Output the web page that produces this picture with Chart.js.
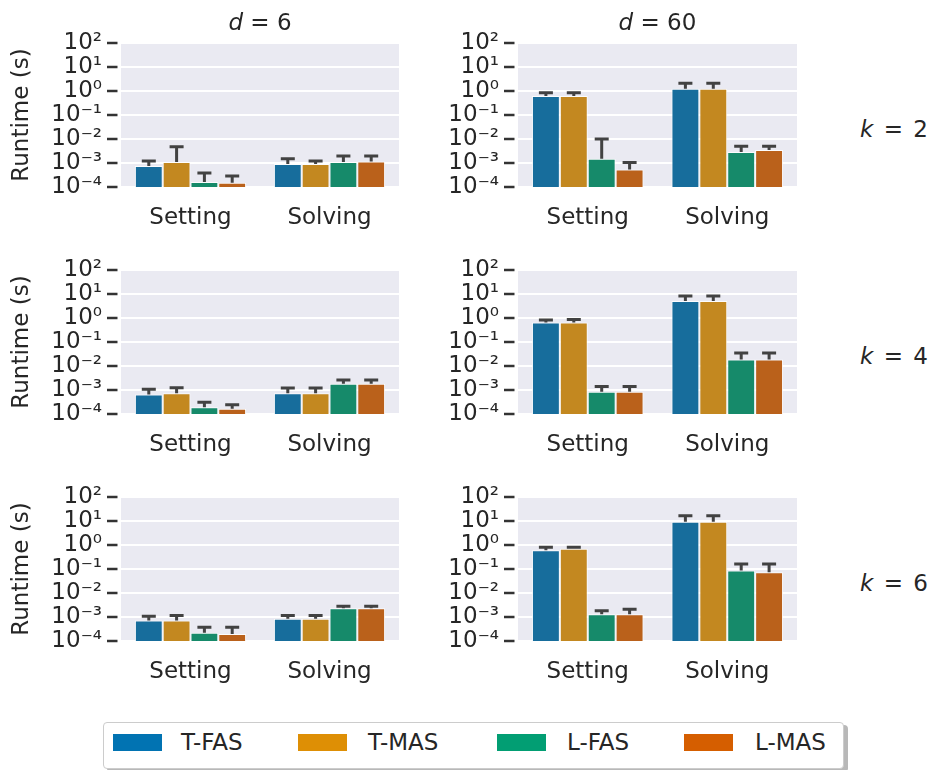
<!DOCTYPE html>
<html><head><meta charset="utf-8">
<script src="https://cdn.jsdelivr.net/npm/chart.js@4.4.0/dist/chart.umd.min.js"></script>
<style>
body{margin:0;background:#fff;}
#wrap{position:relative;width:936px;height:770px;overflow:hidden;font-family:'DejaVu Sans',sans-serif;color:#262626;}
canvas{position:absolute;}
.ttl{position:absolute;font-size:23px;white-space:nowrap;transform:translate(-50%,-50%);line-height:1;}
.legend{position:absolute;left:103px;top:722px;width:739px;height:45px;border:1px solid #cccccc;border-radius:4px;background:#fff;box-shadow:4px 3px 0 #b8b8b8;}
.sw{position:absolute;top:11px;width:49px;height:17px;}
.lt{position:absolute;top:6px;font-size:23px;line-height:27px;color:#262626;white-space:nowrap;}
</style>
</head><body>
<div id="wrap"></div>
<script>
// ---------- data ----------
const categories = ['Setting', 'Solving'];
const seriesNames = ['T-FAS', 'T-MAS', 'L-FAS', 'L-MAS'];
const dValues = [6, 60];
const kValues = [2, 4, 6];
const yTickValues = [1e-4, 1e-3, 1e-2, 1e-1, 1e0, 1e1, 1e2];
const yTickLabels = ['10⁻⁴', '10⁻³', '10⁻²', '10⁻¹', '10⁰', '10¹', '10²'];
const yAxisTitle = 'Runtime (s)';

// mean runtime per series: [Setting, Solving]
const k2_d6_mean  = [[7.5e-4, 9.0e-4], [1.1e-3, 9.0e-4], [1.6e-4, 1.1e-3], [1.5e-4, 1.15e-3]];
const k2_d6_upper = [[1.2e-3, 1.5e-3], [4.7e-3, 1.2e-3], [3.8e-4, 1.95e-3], [2.9e-4, 1.95e-3]];
const k2_d60_mean  = [[0.62, 1.25], [0.62, 1.25], [1.5e-3, 2.9e-3], [5.4e-4, 3.5e-3]];
const k2_d60_upper = [[0.85, 2.1], [0.85, 2.1], [1.0e-2, 5.0e-3], [1.05e-3, 5.0e-3]];
const k4_d6_mean  = [[6.5e-4, 7.4e-4], [7.4e-4, 7.4e-4], [1.9e-4, 1.8e-3], [1.67e-4, 1.8e-3]];
const k4_d6_upper = [[1.07e-3, 1.2e-3], [1.23e-3, 1.2e-3], [3.1e-4, 2.6e-3], [2.4e-4, 2.6e-3]];
const k4_d60_mean  = [[0.65, 5.1], [0.65, 5.1], [8.4e-4, 0.0187], [8.4e-4, 0.0187]];
const k4_d60_upper = [[0.83, 8.3], [0.87, 8.3], [1.4e-3, 0.035], [1.4e-3, 0.035]];
const k6_d6_mean  = [[7.2e-4, 8.5e-4], [7.2e-4, 8.5e-4], [2.2e-4, 2.3e-3], [1.95e-4, 2.3e-3]];
const k6_d6_upper = [[1.07e-3, 1.15e-3], [1.15e-3, 1.15e-3], [3.7e-4, 2.8e-3], [3.7e-4, 2.8e-3]];
const k6_d60_mean  = [[0.6, 9.3], [0.69, 9.3], [1.3e-3, 0.087], [1.3e-3, 0.074]];
const k6_d60_upper = [[0.8, 16.7], [0.8, 16.7], [1.8e-3, 0.16], [2.1e-3, 0.16]];

// ---------- styles ----------
const barColors = ['#176d9c', '#c38820', '#168a6a', '#ba611b'];
const legendColors = ['#0173b2', '#de8f05', '#029e73', '#d55e00'];
const panels = [
  [k2_d6_mean, k2_d6_upper, k2_d60_mean, k2_d60_upper],
  [k4_d6_mean, k4_d6_upper, k4_d60_mean, k4_d60_upper],
  [k6_d6_mean, k6_d6_upper, k6_d60_mean, k6_d60_upper]
];

Chart.defaults.font.family = "'DejaVu Sans', sans-serif";
Chart.defaults.color = '#262626';

const bgPlugin = {
  id: 'bgArea',
  beforeDraw(chart) {
    const {ctx, chartArea: a} = chart;
    ctx.save();
    ctx.fillStyle = '#eaeaf2';
    ctx.fillRect(a.left, a.top, a.right - a.left, a.bottom - a.top);
    ctx.restore();
  }
};
const tickPlugin = {
  id: 'tickMarks',
  afterDraw(chart) {
    const {ctx, chartArea: a} = chart;
    const ys = chart.scales.y;
    ctx.save();
    ctx.strokeStyle = '#333333';
    ctx.lineWidth = 2.5;
    ys.ticks.forEach(t => {
      const y = Math.round(ys.getPixelForValue(t.value));
      ctx.beginPath();
      ctx.moveTo(a.left - 14, y);
      ctx.lineTo(a.left - 3.5, y);
      ctx.stroke();
    });
    ctx.restore();
  }
};
const errPlugin = {
  id: 'errBars',
  afterDatasetsDraw(chart) {
    const ctx = chart.ctx, ys = chart.scales.y;
    ctx.save();
    ctx.strokeStyle = '#424242';
    ctx.lineWidth = 3;
    chart.data.datasets.forEach((ds, i) => {
      const meta = chart.getDatasetMeta(i);
      meta.data.forEach((bar, j) => {
        const yt = ys.getPixelForValue(ds.errorHigh[j]);
        ctx.beginPath();
        ctx.moveTo(bar.x, bar.y);
        ctx.lineTo(bar.x, yt);
        ctx.moveTo(bar.x - 7, yt);
        ctx.lineTo(bar.x + 7, yt);
        ctx.stroke();
      });
    });
    ctx.restore();
  }
};

const wrap = document.getElementById('wrap');
const rowTops = [43, 270, 497];
const plotH = 144;
const colSpec = [
  {canvasLeft: 0, canvasW: 403, axisW: 121, showTitle: true},
  {canvasLeft: 403, canvasW: 398, axisW: 115, showTitle: false}
];
const padTop = 20, xAxisH = 50, padRight = 4;

panels.forEach((row, r) => {
  for (let c = 0; c < 2; c++) {
    const mean = row[c * 2], upper = row[c * 2 + 1];
    const spec = colSpec[c];
    const cv = document.createElement('canvas');
    const h = padTop + plotH + xAxisH;
    cv.width = spec.canvasW; cv.height = h;
    cv.style.left = spec.canvasLeft + 'px';
    cv.style.top = (rowTops[r] - padTop) + 'px';
    cv.style.width = spec.canvasW + 'px'; cv.style.height = h + 'px';
    wrap.appendChild(cv);
    new Chart(cv, {
      type: 'bar',
      data: {
        labels: categories,
        datasets: seriesNames.map((name, i) => ({
          label: name,
          data: mean[i],
          errorHigh: upper[i],
          backgroundColor: barColors[i],
          borderColor: 'rgba(255,255,255,0.85)',
          borderWidth: 1,
          categoryPercentage: 0.8,
          barPercentage: 1.0
        }))
      },
      options: {
        responsive: false,
        devicePixelRatio: 1,
        animation: false,
        layout: {autoPadding: false, padding: {top: padTop, right: padRight, bottom: 0, left: 0}},
        plugins: {legend: {display: false}, tooltip: {enabled: false}},
        scales: {
          x: {
            type: 'category',
            grid: {display: false, drawTicks: false},
            border: {display: false},
            ticks: {font: {size: 23}, color: '#262626', padding: 17},
            afterFit: s => { s.height = xAxisH; s.paddingLeft = 0; s.paddingRight = 0; }
          },
          y: {
            type: 'logarithmic',
            min: 1e-4, max: 1e2,
            border: {display: false},
            grid: {color: '#ffffff', lineWidth: 2, drawTicks: false},
            afterBuildTicks: s => { s.ticks = yTickValues.map(v => ({value: v})); },
            ticks: {
              autoSkip: false,
              font: {size: 23}, color: '#262626', padding: 19,
              callback: v => yTickLabels[Math.round(Math.log10(v)) + 4]
            },
            title: {display: spec.showTitle, text: yAxisTitle, font: {size: 23}, color: '#262626', padding: {top: 8, bottom: 0}},
            afterFit: s => { s.width = spec.axisW; s.paddingTop = 0; s.paddingBottom = 0; }
          }
        }
      },
      plugins: [bgPlugin, errPlugin, tickPlugin]
    });
  }
});

// column titles (d) and row titles (k)
const colCenters = [260, 657.5];
dValues.forEach((d, i) => {
  const el = document.createElement('div');
  el.className = 'ttl';
  el.style.left = colCenters[i] + 'px'; el.style.top = '22px';
  el.innerHTML = '<i>d</i> = ' + d;
  wrap.appendChild(el);
});
const rowLabelY = [129, 356, 583];
kValues.forEach((k, i) => {
  const el = document.createElement('div');
  el.className = 'ttl';
  el.style.left = '894px'; el.style.top = rowLabelY[i] + 'px';
  el.style.wordSpacing = '3px';
  el.innerHTML = '<i>k</i> = ' + k;
  wrap.appendChild(el);
});

// legend
const lg = document.createElement('div');
lg.className = 'legend';
const swX = [9, 194, 393, 580];
const txX = [77, 264, 463, 651];
seriesNames.forEach((name, i) => {
  const sw = document.createElement('div');
  sw.className = 'sw'; sw.style.left = swX[i] + 'px'; sw.style.background = legendColors[i];
  lg.appendChild(sw);
  const t = document.createElement('div');
  t.className = 'lt'; t.style.left = txX[i] + 'px'; t.textContent = name;
  lg.appendChild(t);
});
wrap.appendChild(lg);
</script>
</body></html>
